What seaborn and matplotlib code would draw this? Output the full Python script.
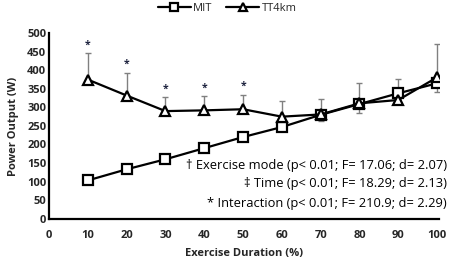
import matplotlib
matplotlib.use("Agg")
import matplotlib.pyplot as plt
import seaborn as sns
import pandas as pd
import numpy as np

duration = [10, 20, 30, 40, 50, 60, 70, 80, 90, 100]
mit = [103, 133, 160, 190, 220, 247, 280, 309, 338, 365]
mit_sd = [8, 8, 8, 8, 8, 10, 18, 23, 12, 24]
tt4km = [375, 332, 290, 292, 295, 275, 281, 311, 320, 381]
tt4km_sd = [71, 62, 37, 39, 39, 43, 42, 54, 57, 89]
sig_points = [10, 20, 30, 40, 50]
x_ticks = [0, 10, 20, 30, 40, 50, 60, 70, 80, 90, 100]
y_ticks = [0, 50, 100, 150, 200, 250, 300, 350, 400, 450, 500]
stats_lines = [
    "† Exercise mode (p< 0.01; F= 17.06; d= 2.07)",
    "‡ Time (p< 0.01; F= 18.29; d= 2.13)",
    "* Interaction (p< 0.01; F= 210.9; d= 2.29)",
]

sns.set_theme(style="white")
plt.rcParams['font.family'] = ['Open Sans', 'DejaVu Sans']

df = pd.DataFrame({
    "Duration": duration * 2,
    "Power": mit + tt4km,
    "Test": ["MIT"] * len(duration) + ["TT4km"] * len(duration),
})

fig = plt.figure(figsize=(4.54, 2.64), dpi=100)
ax = fig.add_axes([0.108, 0.172, 0.859, 0.702])

# error bars (MIT lower, TT4km upper)
ax.errorbar(duration, mit, yerr=[mit_sd, [0] * len(mit_sd)], fmt='none',
            ecolor='#808080', elinewidth=1.0, capsize=2.5, capthick=1.0, zorder=1)
ax.errorbar(duration, tt4km, yerr=[[0] * len(tt4km_sd), tt4km_sd], fmt='none',
            ecolor='#808080', elinewidth=1.0, capsize=2.5, capthick=1.0, zorder=1)

sns.lineplot(data=df, x="Duration", y="Power", hue="Test", style="Test",
             palette={"MIT": "black", "TT4km": "black"},
             markers={"MIT": "s", "TT4km": "^"}, dashes=False,
             markersize=7.5, markerfacecolor="white", markeredgecolor="black",
             markeredgewidth=1.6, linewidth=1.6, ax=ax, zorder=3, legend=True)

# asterisks
for xv in sig_points:
    i = duration.index(xv)
    ax.text(xv, tt4km[i] + tt4km_sd[i] + 22, "*", ha="center", va="center",
            fontsize=7.5, color="#1f2440", fontweight="bold")

ax.set_xlim(0, 100.5)
ax.set_ylim(0, 500)
ax.set_xticks(x_ticks)
ax.set_yticks(y_ticks)
ax.set_xticklabels([str(t) for t in x_ticks], fontsize=8, fontweight="bold")
ax.set_yticklabels([str(t) for t in y_ticks], fontsize=8, fontweight="bold")
ax.tick_params(axis='x', length=0, pad=8)
ax.tick_params(axis='y', length=0, pad=2)
ax.set_xlabel("Exercise Duration (%)", fontsize=8, fontweight="bold", labelpad=5)
ax.set_ylabel("Power Output (W)", fontsize=8, fontweight="bold", labelpad=6)

for s in ["top", "right"]:
    ax.spines[s].set_visible(False)
for s in ["left", "bottom"]:
    ax.spines[s].set_color("black")
    ax.spines[s].set_linewidth(1.6)

ys_px = [166, 184, 203]
for txt, yp in zip(stats_lines, ys_px):
    fig.text(447 / 454, 1 - yp / 264, txt, ha="right", va="center",
             fontsize=9.3, color="black")

handles, labels = ax.get_legend_handles_labels()
ax.legend_.remove()
leg = fig.legend(handles, labels, loc="center", bbox_to_anchor=(0.5, 0.968), ncol=2,
                 frameon=False, fontsize=8, handlelength=3.0, columnspacing=1.2,
                 handletextpad=0.2, borderaxespad=0, borderpad=0)
for h in leg.legend_handles:
    h.set_markersize(6)

fig.savefig("out.png", dpi=100)
